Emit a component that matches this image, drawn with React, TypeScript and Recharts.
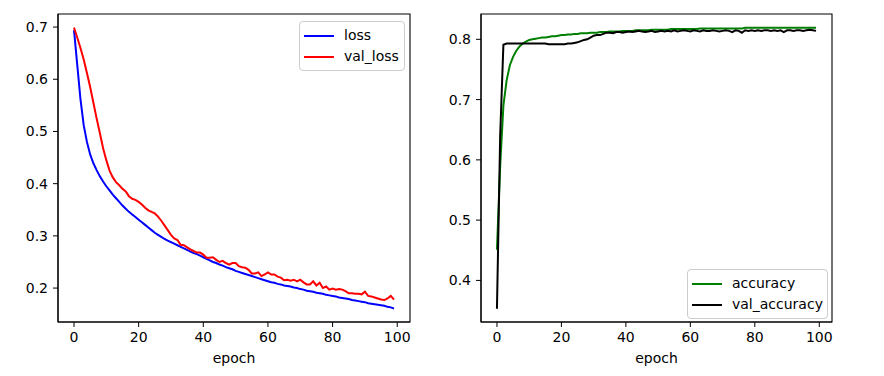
import React from "react";
import { LineChart, Line, XAxis, YAxis, ReferenceArea } from "recharts";

// epochs 0..99 (x categories)
const epochs = Array.from({ length: 100 }, (_, i) => i);

const loss = [
  0.694, 0.628, 0.562, 0.512, 0.48, 0.456, 0.439, 0.426, 0.414, 0.404,
  0.395, 0.387, 0.379, 0.372, 0.365, 0.358, 0.352, 0.346, 0.341, 0.336,
  0.331, 0.326, 0.321, 0.316, 0.311, 0.306, 0.302, 0.298, 0.294, 0.291,
  0.288, 0.285, 0.282, 0.279, 0.276, 0.273, 0.27, 0.267, 0.265, 0.262,
  0.259, 0.256, 0.253, 0.25, 0.248, 0.245, 0.243, 0.24, 0.238, 0.236,
  0.233, 0.231, 0.229, 0.227, 0.225, 0.223, 0.221, 0.219, 0.217, 0.215,
  0.213, 0.211, 0.21, 0.208, 0.207, 0.205, 0.204, 0.203, 0.201, 0.2,
  0.198, 0.197, 0.195, 0.194, 0.193, 0.191, 0.19, 0.189, 0.187, 0.186,
  0.185, 0.184, 0.182, 0.181, 0.18, 0.179, 0.177, 0.176, 0.175, 0.174,
  0.173, 0.171, 0.17, 0.169, 0.168, 0.167, 0.166, 0.164, 0.163, 0.161,
];

const valLoss = [
  0.699, 0.68, 0.66, 0.638, 0.612, 0.585, 0.555, 0.525, 0.497, 0.468,
  0.445, 0.425, 0.412, 0.403, 0.397, 0.39, 0.385, 0.376, 0.371, 0.369,
  0.365, 0.36, 0.354, 0.349, 0.346, 0.343, 0.337, 0.329, 0.32, 0.311,
  0.302, 0.295, 0.292, 0.283, 0.282, 0.278, 0.274, 0.271, 0.268, 0.268,
  0.264, 0.258, 0.258, 0.259, 0.254, 0.25, 0.252, 0.248, 0.245, 0.248,
  0.248, 0.242, 0.24, 0.239, 0.235, 0.228, 0.228, 0.23, 0.223, 0.226,
  0.23, 0.226, 0.226, 0.222, 0.22, 0.215, 0.216, 0.214, 0.216, 0.213,
  0.216, 0.211, 0.207, 0.207, 0.213, 0.205, 0.21, 0.2, 0.203, 0.197,
  0.199, 0.197, 0.198, 0.197, 0.194, 0.19, 0.19, 0.189, 0.189, 0.188,
  0.193, 0.185, 0.184, 0.182, 0.18, 0.178, 0.177, 0.18, 0.185, 0.178,
];

const accuracy = [
  0.451, 0.59, 0.69, 0.732, 0.757, 0.771, 0.781, 0.788, 0.793, 0.796,
  0.799, 0.8, 0.801, 0.802, 0.803, 0.803, 0.804, 0.805, 0.805, 0.806,
  0.807, 0.807, 0.808, 0.808, 0.809, 0.809, 0.81, 0.81, 0.81, 0.811,
  0.811, 0.811, 0.812, 0.812, 0.812, 0.813, 0.813, 0.813, 0.813, 0.814,
  0.814, 0.814, 0.814, 0.815, 0.815, 0.815, 0.815, 0.815, 0.816, 0.816,
  0.816, 0.816, 0.816, 0.816, 0.817, 0.817, 0.817, 0.817, 0.817, 0.817,
  0.817, 0.817, 0.817, 0.818, 0.818, 0.818, 0.818, 0.818, 0.818, 0.818,
  0.818, 0.818, 0.818, 0.818, 0.818, 0.818, 0.818, 0.819, 0.819, 0.819,
  0.819, 0.819, 0.819, 0.819, 0.819, 0.819, 0.819, 0.819, 0.819, 0.819,
  0.819, 0.819, 0.819, 0.819, 0.819, 0.819, 0.819, 0.819, 0.819, 0.819,
];

const valAccuracy = [
  0.353, 0.64, 0.791, 0.793, 0.793, 0.793, 0.793, 0.793, 0.793, 0.793,
  0.793, 0.793, 0.793, 0.793, 0.793, 0.793, 0.792, 0.792, 0.792, 0.792,
  0.792, 0.792, 0.793, 0.793, 0.794, 0.795, 0.797, 0.799, 0.8, 0.803,
  0.806, 0.807, 0.807, 0.809, 0.811, 0.811, 0.81, 0.812, 0.812, 0.811,
  0.812, 0.813, 0.812, 0.813, 0.814, 0.813, 0.812, 0.813, 0.814, 0.812,
  0.813, 0.814, 0.813, 0.814, 0.813, 0.815, 0.813, 0.814, 0.815, 0.814,
  0.813, 0.815, 0.814, 0.813, 0.815, 0.814, 0.814, 0.815, 0.814, 0.813,
  0.814, 0.815, 0.814, 0.812, 0.815, 0.814, 0.811, 0.815, 0.814, 0.815,
  0.814, 0.815, 0.814, 0.815, 0.815, 0.814, 0.815, 0.814, 0.815, 0.812,
  0.815, 0.815, 0.814, 0.815, 0.815, 0.814, 0.815, 0.816, 0.815, 0.814,
];

const xTicks = [0, 20, 40, 60, 80, 100];
const lossTicks = [0.2, 0.3, 0.4, 0.5, 0.6, 0.7];
const accTicks = [0.4, 0.5, 0.6, 0.7, 0.8];

const data = epochs.map((e, i) => ({
  epoch: e,
  loss: loss[i],
  val_loss: valLoss[i],
  accuracy: accuracy[i],
  val_accuracy: valAccuracy[i],
}));

const FONT = "'DejaVu Sans', sans-serif";
const tickStyle = { fill: "#000", fontSize: 14, fontFamily: FONT };
const xDomain: [number, number] = [-4.95, 103.95];
const lossDomain: [number, number] = [0.135, 0.725];
const accDomain: [number, number] = [0.331, 0.842];

function LegendBox({ left, top, width, items }: { left: number; top: number; width: number; items: { name: string; color: string }[] }) {
  return (
    <div
      style={{
        position: "absolute",
        left,
        top,
        width,
        padding: "3px 0",
        border: "1px solid #cccccc",
        borderRadius: 4,
        background: "rgba(255,255,255,0.8)",
        fontFamily: FONT,
        fontSize: 14,
        color: "#000",
      }}
    >
      {items.map((it) => (
        <div key={it.name} style={{ display: "flex", alignItems: "center", height: 21 }}>
          <svg width={44} height={10} style={{ flex: "none" }}>
            <line x1={4} x2={34} y1={5} y2={5} stroke={it.color} strokeWidth={2} />
          </svg>
          <span style={{ lineHeight: "21px" }}>{it.name}</span>
        </div>
      ))}
    </div>
  );
}

export default function App() {
  const axisLine = { stroke: "#000", strokeWidth: 1.1 };
  const xLabel = { value: "epoch", position: "insideBottom" as const, offset: 13, fill: "#000", fontSize: 14, fontFamily: FONT };
  return (
    <div style={{ position: "absolute", left: 0, top: 0, width: 884, height: 376, background: "#fff" }}>
      <div style={{ position: "absolute", left: 0, top: 0 }}>
        <LineChart width={440} height={376} data={data} margin={{ top: 14, right: 30, bottom: 0, left: 0 }}>
          <XAxis
            dataKey="epoch"
            type="number"
            domain={xDomain}
            allowDataOverflow
            ticks={xTicks}
            height={54}
            tick={tickStyle}
            tickSize={5}
            tickMargin={5}
            axisLine={axisLine}
            tickLine={{ stroke: "#000" }}
            label={xLabel}
          />
          <YAxis
            type="number"
            domain={lossDomain}
            allowDataOverflow
            ticks={lossTicks}
            width={58}
            tick={tickStyle}
            tickSize={5}
            tickMargin={5}
            tickFormatter={(v: number) => v.toFixed(1)}
            axisLine={axisLine}
            tickLine={{ stroke: "#000" }}
          />
          <ReferenceArea x1={xDomain[0]} x2={xDomain[1]} y1={lossDomain[0]} y2={lossDomain[1]} fill="none" stroke="#000" strokeWidth={1.1} ifOverflow="extendDomain" />
          <Line type="linear" dataKey="loss" stroke="#0000ff" strokeWidth={2} dot={false} isAnimationActive={false} />
          <Line type="linear" dataKey="val_loss" stroke="#ff0000" strokeWidth={2} dot={false} isAnimationActive={false} />
        </LineChart>
      </div>
      <div style={{ position: "absolute", left: 440, top: 0 }}>
        <LineChart width={444} height={376} data={data} margin={{ top: 14, right: 52, bottom: 0, left: 0 }}>
          <XAxis
            dataKey="epoch"
            type="number"
            domain={xDomain}
            allowDataOverflow
            ticks={xTicks}
            height={54}
            tick={tickStyle}
            tickSize={5}
            tickMargin={5}
            axisLine={axisLine}
            tickLine={{ stroke: "#000" }}
            label={xLabel}
          />
          <YAxis
            type="number"
            domain={accDomain}
            allowDataOverflow
            ticks={accTicks}
            width={41}
            tick={tickStyle}
            tickSize={5}
            tickMargin={5}
            tickFormatter={(v: number) => v.toFixed(1)}
            axisLine={axisLine}
            tickLine={{ stroke: "#000" }}
          />
          <ReferenceArea x1={xDomain[0]} x2={xDomain[1]} y1={accDomain[0]} y2={accDomain[1]} fill="none" stroke="#000" strokeWidth={1.1} ifOverflow="extendDomain" />
          <Line type="linear" dataKey="accuracy" stroke="#008000" strokeWidth={2} dot={false} isAnimationActive={false} />
          <Line type="linear" dataKey="val_accuracy" stroke="#000000" strokeWidth={2} dot={false} isAnimationActive={false} />
        </LineChart>
      </div>
      <LegendBox
        left={299}
        top={21}
        width={104}
        items={[
          { name: "loss", color: "#0000ff" },
          { name: "val_loss", color: "#ff0000" },
        ]}
      />
      <LegendBox
        left={687}
        top={269}
        width={139}
        items={[
          { name: "accuracy", color: "#008000" },
          { name: "val_accuracy", color: "#000000" },
        ]}
      />
    </div>
  );
}
